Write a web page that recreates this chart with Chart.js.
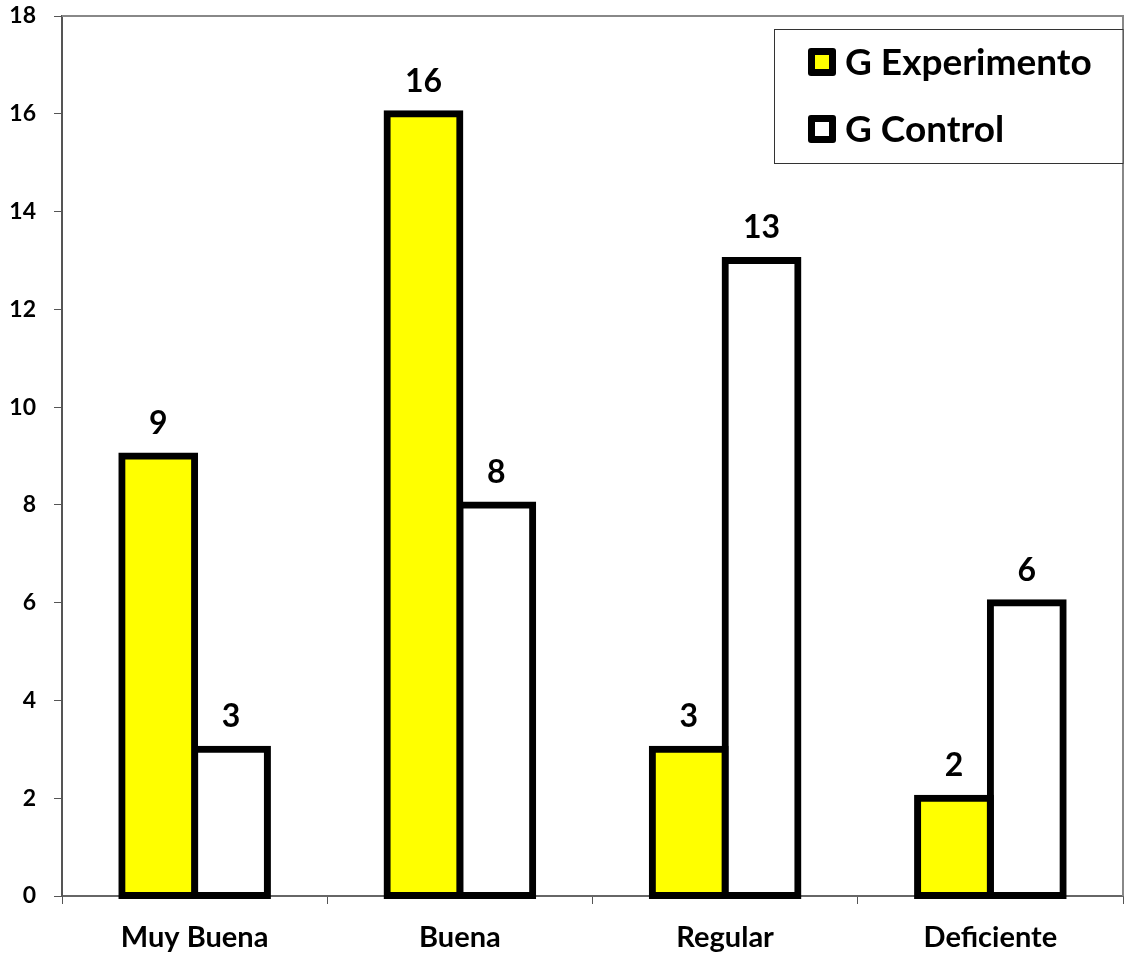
<!DOCTYPE html>
<html>
<head>
<meta charset="utf-8">
<script src="https://cdn.jsdelivr.net/npm/chart.js@4.4.1/dist/chart.umd.min.js"></script>
<style>
  html, body { margin: 0; padding: 0; background: #fff; }
  #wrap { width: 1125px; height: 956px; }
</style>
</head>
<body>
<div id="wrap"><canvas id="grafico" width="1125" height="956"></canvas></div>
<script>
// Datos del gráfico
const categorias = ['Muy Buena', 'Buena', 'Regular', 'Deficiente'];
const grupoExperimento = [9, 16, 3, 2];
const grupoControl = [3, 8, 13, 6];
const marcasY = [0, 2, 4, 6, 8, 10, 12, 14, 16, 18];

const fuente = 'Lato, "Open Sans", sans-serif';

// Valores encima de cada barra
const etiquetasValor = {
    id: 'etiquetasValor',
    afterDatasetsDraw(chart) {
        const ctx = chart.ctx;
        ctx.save();
        ctx.font = 'bold 32px ' + fuente;
        ctx.fillStyle = '#000';
        ctx.textAlign = 'center';
        ctx.textBaseline = 'alphabetic';
        chart.data.datasets.forEach((ds, i) => {
            chart.getDatasetMeta(i).data.forEach((bar, j) => {
                ctx.fillText(ds.data[j], bar.x, bar.y - 22);
            });
        });
        ctx.restore();
    }
};

// Borde superior y derecho del área de trazado
const bordeArea = {
    id: 'bordeArea',
    beforeDatasetsDraw(chart) {
        const a = chart.chartArea;
        const ctx = chart.ctx;
        ctx.save();
        ctx.strokeStyle = '#888';
        ctx.lineWidth = 2;
        ctx.beginPath();
        ctx.moveTo(a.left, a.top);
        ctx.lineTo(a.right, a.top);
        ctx.lineTo(a.right, a.bottom);
        ctx.stroke();
        ctx.restore();
    }
};

// Leyenda dentro del área, arriba a la derecha
const leyenda = {
    id: 'leyendaInterna',
    afterDraw(chart) {
        const ctx = chart.ctx;
        const a = chart.chartArea;
        const x0 = 774.5, y0 = 29.5, w = a.right - 774.5, h = 134;
        ctx.save();
        ctx.fillStyle = '#fff';
        ctx.fillRect(x0, y0, w, h);
        ctx.strokeStyle = '#333';
        ctx.lineWidth = 1;
        ctx.strokeRect(x0, y0, w, h);
        ctx.font = 'bold 37px ' + fuente;
        ctx.textBaseline = 'alphabetic';
        ctx.textAlign = 'left';
        chart.data.datasets.forEach((ds, i) => {
            const my = 48 + i * 67;
            ctx.fillStyle = '#000';
            ctx.beginPath();
            ctx.roundRect(808, my, 28, 28, 3);
            ctx.fill();
            ctx.fillStyle = ds.backgroundColor;
            ctx.fillRect(815, my + 7, 14, 14);
            ctx.fillStyle = '#000';
            ctx.fillText(ds.label, 845, my + 27);
        });
        ctx.restore();
    }
};

const ctxGrafico = document.getElementById('grafico').getContext('2d');
const grafico = new Chart(ctxGrafico, {
    type: 'bar',
    data: {
        labels: categorias,
        datasets: [{
            label: 'G Experimento',
            data: grupoExperimento,
            backgroundColor: '#ffff00',
            borderColor: '#000',
            borderWidth: 7,
            borderSkipped: false,
            inflateAmount: 3.5
        }, {
            label: 'G Control',
            data: grupoControl,
            backgroundColor: '#ffffff',
            borderColor: '#000',
            borderWidth: 7,
            borderSkipped: false,
            inflateAmount: 3.5
        }]
    },
    options: {
        responsive: false,
        animation: false,
        layout: { padding: { top: 16, right: 2, left: 0, bottom: 0 } },
        datasets: {
            // el borde queda centrado sobre el contorno de cada barra (inflateAmount)
            bar: { categoryPercentage: 0.549, barPercentage: 1, clip: false }
        },
        plugins: {
            legend: { display: false },
            tooltip: { enabled: false }
        },
        scales: {
            x: {
                grid: {
                    display: true,
                    drawOnChartArea: false,
                    drawTicks: true,
                    tickLength: 8,
                    color: '#555',
                    offset: true
                },
                border: { display: true, color: '#666', width: 2 },
                ticks: {
                    color: '#000',
                    padding: 16,
                    font: { family: fuente, size: 29, weight: 'bold' },
                    maxRotation: 0
                },
                afterFit(scale) { scale.height = 60; }
            },
            y: {
                min: 0,
                max: 18,
                afterBuildTicks(scale) {
                    scale.ticks = marcasY.map(v => ({ value: v }));
                },
                grid: {
                    display: true,
                    drawOnChartArea: false,
                    drawTicks: true,
                    tickLength: 8,
                    color: '#555'
                },
                border: { display: true, color: '#555', width: 2 },
                ticks: {
                    color: '#000',
                    padding: 18,
                    font: { family: fuente, size: 23, weight: 'bold' }
                },
                afterFit(scale) {
                    scale.width = 62;
                    scale.paddingTop = 0;
                    scale.paddingBottom = 0;
                }
            }
        }
    },
    plugins: [bordeArea, etiquetasValor, leyenda]
});
</script>
</body>
</html>
